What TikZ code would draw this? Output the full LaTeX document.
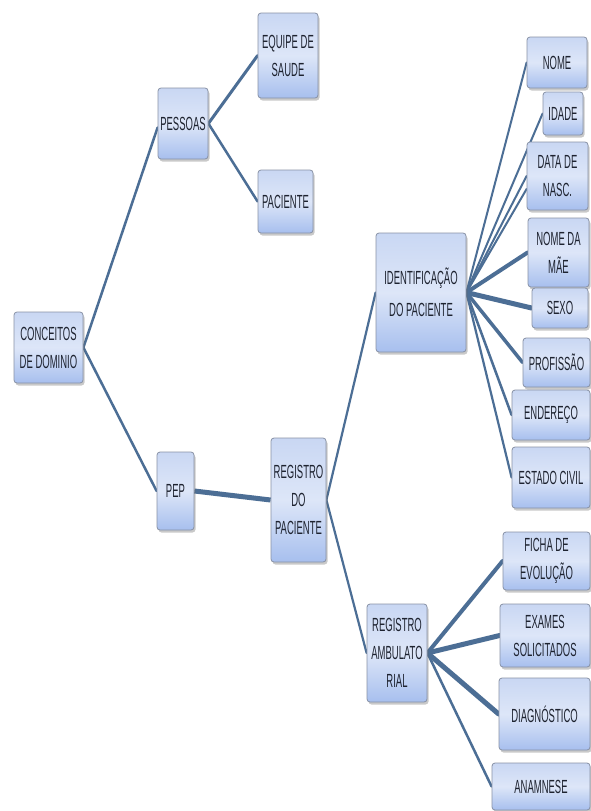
\documentclass[tikz,border=0pt]{standalone}
\usepackage{fontspec}
\newfontfamily\boxfont{Liberation Sans}[FakeStretch=0.5]
\usetikzlibrary{shadows,backgrounds}
\definecolor{boxtop}{HTML}{C9D7F3}
\definecolor{boxmid}{HTML}{DDE6F8}
\definecolor{boxbot}{HTML}{A7BFEE}
\definecolor{boxline}{HTML}{8892A6}
\definecolor{linecol}{HTML}{4C6E95}
\definecolor{txt}{HTML}{1E2330}
\begin{document}
\begin{tikzpicture}[x=1pt,y=-1pt,
  box/.style={draw=boxline, line width=0.8pt, rounded corners=3pt,
    top color=boxtop, bottom color=boxbot, middle color=boxmid,
    drop shadow={shadow xshift=1.5pt, shadow yshift=-2.5pt, opacity=0.35, fill=black!60},
    inner sep=0pt, align=center, text=txt,
    font=\boxfont\fontsize{19}{28}\selectfont},
  link/.style={draw=linecol, line cap=round}]
\useasboundingbox (0,0) rectangle (590,811);
% level 0 and 1
\node[box, minimum width=69pt, minimum height=71pt] (concept) at (48.5,347.5) {CONCEITOS\\DE DOMINIO};
\node[box, minimum width=50pt, minimum height=71pt] (pessoas) at (183,123.5) {PESSOAS};
\node[box, minimum width=60pt, minimum height=85pt] (equipe) at (288,55.5) {EQUIPE DE\\SAUDE};
\node[box, minimum width=55pt, minimum height=63pt] (paciente) at (285.5,201.5) {PACIENTE};
\node[box, minimum width=37pt, minimum height=78pt] (pep) at (175.5,491) {PEP};
\node[box, minimum width=55pt, minimum height=124pt] (regpac) at (298.5,500) {REGISTRO\\DO\\PACIENTE};
\node[box, minimum width=90pt, minimum height=119pt] (ident) at (421,292.5) {IDENTIFICAÇÃO\\[4pt]DO PACIENTE};
\node[box, minimum width=60pt, minimum height=98pt] (ra) at (397,653) {REGISTRO\\AMBULATO\\RIAL};
% identification children
\node[box, minimum width=60pt, minimum height=51pt] (nome) at (557,62.5) {NOME};
\node[box, minimum width=40pt, minimum height=43pt] (idade) at (563,113.5) {IDADE};
\node[box, minimum width=61pt, minimum height=68pt] (data) at (557.5,176) {DATA DE\\NASC.};
\node[box, minimum width=61pt, minimum height=69pt] (mae) at (558.5,252.5) {NOME DA\\MÃE};
\node[box, minimum width=56pt, minimum height=40pt] (sexo) at (560,308) {SEXO};
\node[box, minimum width=67pt, minimum height=49pt] (prof) at (556.5,362.5) {PROFISSÃO};
\node[box, minimum width=78pt, minimum height=50pt] (ender) at (551,415) {ENDEREÇO};
\node[box, minimum width=78pt, minimum height=61pt] (estado) at (551,477.5) {ESTADO CIVIL};
% ambulatorial children
\node[box, minimum width=87pt, minimum height=58pt] (ficha) at (546.5,561) {FICHA DE\\EVOLUÇÃO};
\node[box, minimum width=90pt, minimum height=63pt] (exames) at (545,635.5) {EXAMES\\SOLICITADOS};
\node[box, minimum width=91pt, minimum height=72pt] (diag) at (544.5,714) {DIAGNÓSTICO};
\node[box, minimum width=98pt, minimum height=47pt] (anam) at (541,786.5) {ANAMNESE};
\begin{pgfonlayer}{background}
\fill[white] (0,0) rectangle (590,811);
\draw[link, line width=2.5pt] (concept.east) -- ([yshift=-4pt]pessoas.west);
\draw[link, line width=2.5pt] (concept.east) -- (pep.west);
\draw[link, line width=3pt] (pessoas.east) -- (equipe.west);
\draw[link, line width=2.5pt] (pessoas.east) -- (paciente.west);
\draw[link, line width=5pt, line cap=butt] (pep.east) -- (regpac.west);
\draw[link, line width=2.2pt] (regpac.east) -- (ident.west);
\draw[link, line width=2.2pt] (regpac.east) -- (ra.west);
\draw[link, line width=2pt] (ident.east) -- (nome.west);
\draw[link, line width=2pt] (ident.east) -- (idade.west);
\draw[link, line width=2pt] (ident.east) -- (data.west);
\draw[link, line width=2pt] (ident.east) -- ([yshift=-13pt]data.west);
\draw[link, line width=4pt] (ident.east) -- (mae.west);
\draw[link, line width=5pt] (ident.east) -- (sexo.west);
\draw[link, line width=3.5pt] (ident.east) -- (prof.west);
\draw[link, line width=2.5pt] (ident.east) -- (ender.west);
\draw[link, line width=2.2pt] (ident.east) -- (estado.west);
\draw[link, line width=4pt] (ra.east) -- (ficha.west);
\draw[link, line width=5pt] (ra.east) -- (exames.west);
\draw[link, line width=5pt] (ra.east) -- (diag.west);
\draw[link, line width=2.5pt] (ra.east) -- (anam.west);
\end{pgfonlayer}
\end{tikzpicture}
\end{document}
